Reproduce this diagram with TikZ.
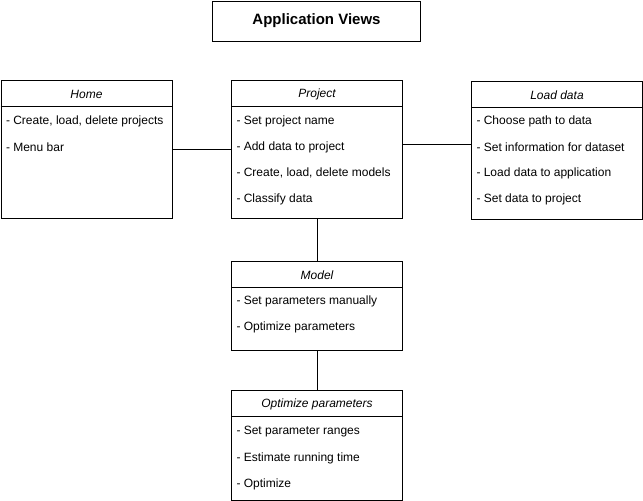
\documentclass[tikz,border=0pt]{standalone}
\usepackage{fontspec}
\setmainfont{Liberation Sans}

\begin{document}
\begin{tikzpicture}[x=1pt, y=-1pt, line width=1pt,
    view/.style={draw, rectangle, anchor=north west, inner sep=0pt, minimum width=171pt},
    head/.style={font=\fontsize{12}{14}\selectfont\itshape, inner sep=0pt},
    item/.style={font=\fontsize{12}{14}\selectfont, anchor=west, inner sep=0pt}]
    \useasboundingbox (0,0) rectangle (643,501);

    % Draw title
    \node[draw, rectangle, anchor=north west, minimum width=208pt, minimum height=40pt,
          font=\fontsize{15}{17}\selectfont\bfseries] (title) at (212,0.5) {Application Views};

    % Draw views
    \node[view, minimum height=138pt] (home) at (0.5,80) {};
    \node[view, minimum height=138pt] (project) at (231,80) {};
    \node[view, minimum height=138pt] (load) at (471,81) {};
    \node[view, minimum height=89pt] (model) at (231,261) {};
    \node[view, minimum height=110pt] (optim) at (231,390) {};

    % Draw header lines
    \draw ([yshift=-26pt]home.north west) -- ([yshift=-26pt]home.north east);
    \draw ([yshift=-26pt]project.north west) -- ([yshift=-26pt]project.north east);
    \draw ([yshift=-26pt]load.north west) -- ([yshift=-26pt]load.north east);
    \draw ([yshift=-26pt]model.north west) -- ([yshift=-26pt]model.north east);
    \draw ([yshift=-26pt]optim.north west) -- ([yshift=-26pt]optim.north east);

    % Headers
    \node[head] (home-h) at ([yshift=-14pt]home.north) {Home};
    \node[head] (project-h) at ([yshift=-14pt]project.north) {Project};
    \node[head] (load-h) at ([yshift=-14pt]load.north) {Load data};
    \node[head] (model-h) at ([yshift=-14pt]model.north) {Model};
    \node[head] (optim-h) at ([yshift=-14pt]optim.north) {Optimize parameters};

    % Items
    \node[item] (home-1) at ([xshift=5pt, yshift=-41pt]home.north west) {- Create, load, delete projects};
    \node[item] (home-2) at ([xshift=5pt, yshift=-67pt]home.north west) {- Menu bar};

    \node[item] (project-1) at ([xshift=5pt, yshift=-41pt]project.north west) {- Set project name};
    \node[item] (project-2) at ([xshift=5pt, yshift=-67pt]project.north west) {- Add data to project};
    \node[item] (project-3) at ([xshift=5pt, yshift=-93pt]project.north west) {- Create, load, delete models};
    \node[item] (project-4) at ([xshift=5pt, yshift=-119pt]project.north west) {- Classify data};

    \node[item] (load-1) at ([xshift=5pt, yshift=-40pt]load.north west) {- Choose path to data};
    \node[item] (load-2) at ([xshift=5pt, yshift=-66pt]load.north west) {- Set information for dataset};
    \node[item] (load-3) at ([xshift=5pt, yshift=-92pt]load.north west) {- Load data to application};
    \node[item] (load-4) at ([xshift=5pt, yshift=-118pt]load.north west) {- Set data to project};

    \node[item] (model-1) at ([xshift=5pt, yshift=-40pt]model.north west) {- Set parameters manually};
    \node[item] (model-2) at ([xshift=5pt, yshift=-66pt]model.north west) {- Optimize parameters};

    \node[item] (optim-1) at ([xshift=5pt, yshift=-42pt]optim.north west) {- Set parameter ranges};
    \node[item] (optim-2) at ([xshift=5pt, yshift=-68pt]optim.north west) {- Estimate running time};
    \node[item] (optim-3) at ([xshift=5pt, yshift=-94pt]optim.north west) {- Optimize};

    % Draw connections
    \draw (home.east) -- (project.west);
    \draw ([yshift=5pt]project.east) -- ([yshift=5pt]project.east -| load.west);
    \draw (project.south) -- (model.north);
    \draw (model.south) -- (optim.north);
\end{tikzpicture}
\end{document}
